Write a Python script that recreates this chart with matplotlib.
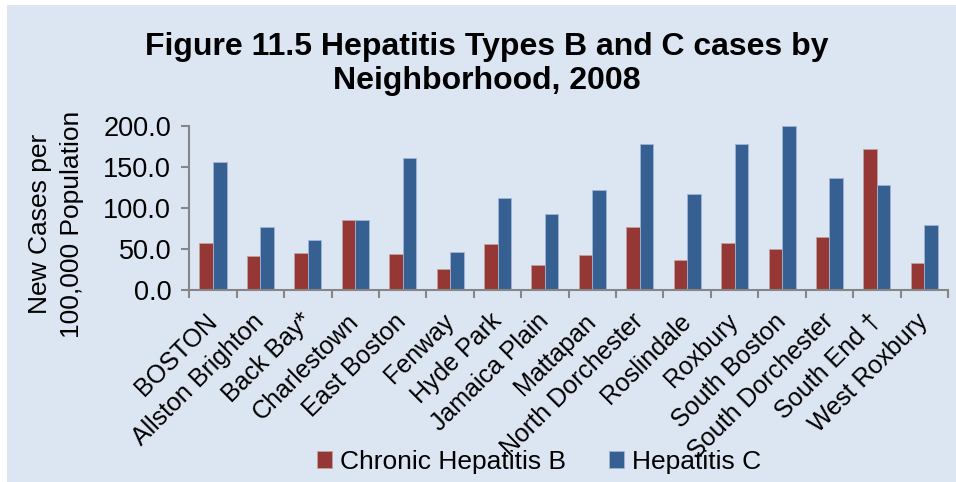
import matplotlib
matplotlib.use("Agg")
import matplotlib.pyplot as plt
from matplotlib.patches import Rectangle
import numpy as np

plt.rcParams['font.family'] = ['Liberation Sans', 'DejaVu Sans']

categories = ["BOSTON", "Allston Brighton", "Back Bay*", "Charlestown", "East Boston",
              "Fenway", "Hyde Park", "Jamaica Plain", "Mattapan", "North Dorchester",
              "Roslindale", "Roxbury", "South Boston", "South Dorchester", "South End \u2020",
              "West Roxbury"]
hep_b = [57.0, 41.5, 45.0, 85.0, 43.6, 25.0, 56.0, 30.0, 42.0, 76.0, 36.0, 57.4, 49.7, 64.4, 172.0, 32.6]
hep_c = [156.0, 76.0, 61.0, 85.0, 161.0, 46.0, 112.0, 93.0, 122.0, 178.0, 116.6, 178.0, 200.0, 136.0, 127.5, 78.7]
yticks = [0, 50, 100, 150, 200]
ytick_labels = ["0.0", "50.0", "100.0", "150.0", "200.0"]

W, H = 956, 482
fig = plt.figure(figsize=(W/100, H/100), dpi=100, facecolor='white')
bg = Rectangle((7/W, 0), 1 - 7/W, 1 - 5/H, transform=fig.transFigure,
               facecolor='#DCE6F2', edgecolor='none', zorder=-10)
fig.patches.append(bg)

ax = fig.add_axes([189.3/W, 1 - 289.7/H, (948 - 189.3)/W, (289.7 - 126)/H])
ax.set_facecolor('none')

x = np.arange(len(categories))
bw = 0.285
red = '#953735'
blue = '#376092'
ax.bar(x - bw/2, hep_b, width=bw, color=red, edgecolor='#c0a0a0', linewidth=0.6, label='Chronic Hepatitis B')
ax.bar(x + bw/2, hep_c, width=bw, color=blue, edgecolor='#9fb5d3', linewidth=0.6, label='Hepatitis C')

ax.set_xlim(-0.5, len(categories) - 0.5)
ax.set_ylim(0, 200)

for s in ['top', 'right']:
    ax.spines[s].set_visible(False)
for s in ['left', 'bottom']:
    ax.spines[s].set_color('#868686')
    ax.spines[s].set_linewidth(1.5)

ax.set_yticks(yticks)
ax.set_yticklabels(ytick_labels, fontsize=19.5)
ax.tick_params(axis='y', direction='out', length=6, width=1.5, color='#868686', pad=7)

ax.set_xticks(np.arange(len(categories) + 1) - 0.5)
ax.set_xticklabels([])
ax.tick_params(axis='x', direction='out', length=6, width=1.5, color='#868686')

ax.set_xticks(x, minor=True)
ax.set_xticklabels(categories, minor=True, rotation=45, ha='right', va='center',
                   rotation_mode='anchor', fontsize=18)
ax.tick_params(axis='x', which='minor', length=0, pad=20)

fig.text(40/W, 1 - 224/H, "New Cases per", rotation=90, ha='center', va='center', fontsize=19)
fig.text(72/W, 1 - 224/H, "100,000 Population", rotation=90, ha='center', va='center', fontsize=19)

fig.text(487/W, 1 - 47/H, "Figure 11.5 Hepatitis Types B and C cases by", ha='center', va='center',
         fontsize=23, fontweight='bold')
fig.text(487/W, 1 - 81/H, "Neighborhood, 2008", ha='center', va='center',
         fontsize=23, fontweight='bold')

fig.legend(loc='center', bbox_to_anchor=(539/W, 1 - 462/H), ncol=2, frameon=False,
           fontsize=19, handlelength=0.6, handleheight=0.6, handletextpad=0.3, columnspacing=1.6)

fig.savefig('out.png', dpi=100, facecolor='white')
